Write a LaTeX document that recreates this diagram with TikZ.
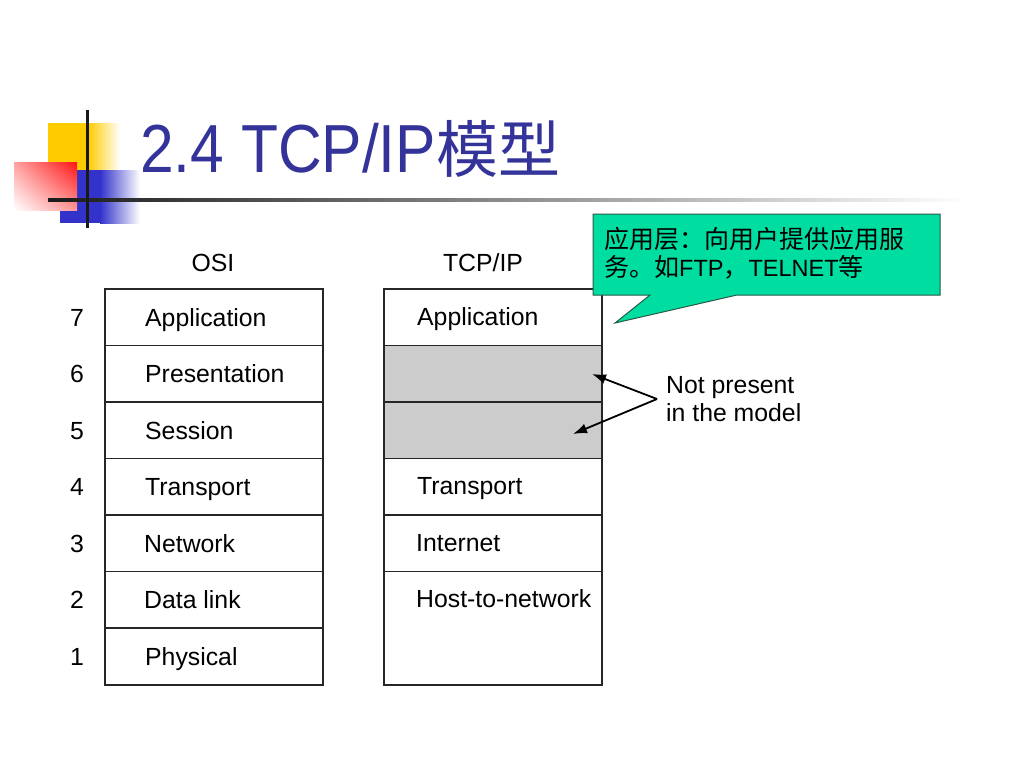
\documentclass[tikz,border=0pt]{standalone}
\usepackage{fontspec}
\setmainfont{Liberation Sans}
\newfontfamily\cjk{Noto Sans CJK SC}
\usetikzlibrary{arrows.meta,shadings}
\definecolor{titleblue}{RGB}{51,51,153}
\definecolor{callgreen}{RGB}{0,221,160}
\definecolor{callborder}{RGB}{40,90,70}
\definecolor{rowgray}{RGB}{204,204,204}
\definecolor{logoyellow}{RGB}{255,204,0}
\definecolor{logoblue}{RGB}{51,51,204}
\definecolor{logored}{RGB}{255,20,20}
\begin{document}
\begin{tikzpicture}[x=1pt,y=-1pt,
  row/.style={draw=black!85, line width=1.6pt, minimum width=218pt, minimum height=56.57pt, inner sep=0pt, anchor=north west},
  grayrow/.style={row, fill=rowgray},
  lbl/.style={anchor=base west, inner sep=0pt, font=\fontsize{24.8}{28}\selectfont},
  num/.style={anchor=base, inner sep=0pt, font=\fontsize{24.8}{28}\selectfont},
  arr/.style={line width=1.8pt, -{Latex[length=14pt,width=10pt]}}
]
\useasboundingbox (0,0) rectangle (1024,768);
\fill[white] (0,0) rectangle (1024,768);

% logo
\fill[logoyellow] (48,123) rectangle (88,170);
\shade[left color=logoyellow, right color=white] (88,123) rectangle (120,170);
\fill[logoblue] (60,170) rectangle (100,223);
\shade[left color=logoblue, right color=white] (100,170) rectangle (140,223);
\shade[upper right=logored, lower left=white, upper left=logored!40, lower right=logored!45] (14,162) rectangle (77,210);
\shade[left color=black!90, right color=white] (48,198.5) rectangle (965,201.5);
\draw[line width=3pt, black!90] (87,110) -- (87,228);

% title
\node[anchor=base west, inner sep=0pt, text=titleblue] (title) at (140,172)
  {\fontsize{68}{80}\selectfont\scalebox{0.89}[1]{2.4 TCP/IP}{\cjk\fontsize{62}{70}\selectfont 模型}};

% headers
\node[num] (hosi) at (213,271) {OSI};
\node[num] (htcp) at (483,271) {TCP/IP};

% OSI rows
\node[row] (o7) at (104,288) {};
\node[row] (o6) at (104,344.57) {};
\node[row] (o5) at (104,401.14) {};
\node[row] (o4) at (104,457.71) {};
\node[row] (o3) at (104,514.29) {};
\node[row] (o2) at (104,570.86) {};
\node[row] (o1) at (104,627.43) {};

\node[lbl] (l7) at ([xshift=41pt,yshift=-9pt]o7.west) {Application};
\node[lbl] (l6) at ([xshift=41pt,yshift=-9pt]o6.west) {Presentation};
\node[lbl] (l5) at ([xshift=41pt,yshift=-9pt]o5.west) {Session};
\node[lbl] (l4) at ([xshift=41pt,yshift=-9pt]o4.west) {Transport};
\node[lbl] (l3) at ([xshift=40pt,yshift=-9pt]o3.west) {Network};
\node[lbl] (l2) at ([xshift=40pt,yshift=-9pt]o2.west) {Data link};
\node[lbl] (l1) at ([xshift=41pt,yshift=-9pt]o1.west) {Physical};

\node[num] (n7) at ([xshift=-27pt,yshift=-9pt]o7.west) {7};
\node[num] (n6) at ([xshift=-27pt,yshift=-9pt]o6.west) {6};
\node[num] (n5) at ([xshift=-27pt,yshift=-9pt]o5.west) {5};
\node[num] (n4) at ([xshift=-27pt,yshift=-9pt]o4.west) {4};
\node[num] (n3) at ([xshift=-27pt,yshift=-9pt]o3.west) {3};
\node[num] (n2) at ([xshift=-27pt,yshift=-9pt]o2.west) {2};
\node[num] (n1) at ([xshift=-27pt,yshift=-9pt]o1.west) {1};

% TCP/IP rows
\node[row] (t4) at (383,288) {};
\node[grayrow] (g6) at (383,344.57) {};
\node[grayrow] (g5) at (383,401.14) {};
\node[row] (t3) at (383,457.71) {};
\node[row] (t2) at (383,514.29) {};
\node[row, minimum height=113.14pt] (t1) at (383,570.86) {};

\node[lbl] (k4) at ([xshift=34pt,yshift=-8pt]t4.west) {Application};
\node[lbl] (k3) at ([xshift=34pt,yshift=-8pt]t3.west) {Transport};
\node[lbl] (k2) at ([xshift=33pt,yshift=-8pt]t2.west) {Internet};
\node[lbl] (k1) at ([xshift=33pt,yshift=-36.3pt]t1.north west) {Host-to-network};

% not present note
\node[anchor=base west, inner sep=0pt, font=\fontsize{24.8}{29}\selectfont] (np) at (666,393) {Not present};
\node[anchor=base west, inner sep=0pt, font=\fontsize{24.8}{29}\selectfont] (np2) at (666,421) {in the model};
\coordinate (tail) at (657,399);
\coordinate (h6) at (592,374);
\coordinate (h5) at (573,434);
\draw[arr] (tail) -- (h6);
\draw[arr] (tail) -- (h5);

% callout
\draw[draw=callborder, fill=callgreen, line width=1pt]
  (593,214) -- (940,214) -- (940,295) -- (737,295) -- (615,323) -- (650,295) -- (593,295) -- cycle;
\node[anchor=base west, inner sep=0pt, font=\fontsize{25}{29}\selectfont] (call1) at (604,248)
  {\cjk 应用层：向用户提供应用服};
\node[anchor=base west, inner sep=0pt, font=\fontsize{25}{29}\selectfont] (call2) at (604,276)
  {{\cjk 务。如}{\fontsize{23.5}{28}\selectfont FTP}{\cjk ，}{\fontsize{23.5}{28}\selectfont TELNET}{\cjk 等}};
\end{tikzpicture}
\end{document}
